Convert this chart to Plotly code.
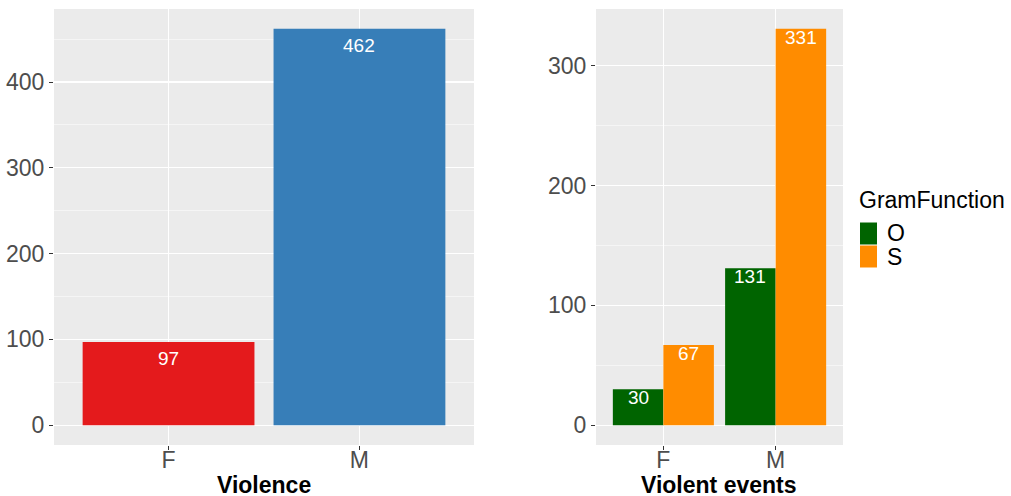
import plotly.graph_objects as go

# ---- data ----
sex_categories = ["F", "M"]
violence_counts = [97, 462]
violence_colors = ["#E41A1C", "#377EB8"]

gram_functions = ["O", "S"]
events_O = [30, 131]
events_S = [67, 331]
gram_colors = {"O": "#006400", "S": "#FF8C00"}

W, H = 1011, 496
def px(x):
    return x / W
def py(y):
    return 1 - y / H

FONT = "Liberation Sans, Arial, Helvetica, sans-serif"
BG = "#EBEBEB"
TICKCOL = "#4D4D4D"
FS = 23

fig = go.Figure()

xpos = [i + 1 for i in range(len(sex_categories))]

# Left panel bars
fig.add_trace(go.Bar(x=xpos, y=violence_counts, width=0.9,
                     marker=dict(color=violence_colors, line=dict(width=0)),
                     xaxis="x", yaxis="y", showlegend=False, hoverinfo="skip"))
for xv, v in zip(xpos, violence_counts):
    fig.add_annotation(x=xv, y=v, xref="x", yref="y", text=str(v), showarrow=False,
                       yanchor="top", yshift=-4,
                       font=dict(family=FONT, size=19, color="white"))

# Right panel bars (dodged)
dodge = {"O": -0.225, "S": 0.225}
for g, vals in zip(gram_functions, [events_O, events_S]):
    xs = [x + dodge[g] for x in xpos]
    fig.add_trace(go.Bar(x=xs, y=vals, width=0.45,
                         marker=dict(color=gram_colors[g], line=dict(width=0)),
                         xaxis="x2", yaxis="y2", name=g, showlegend=False, hoverinfo="skip"))
    for xv, v in zip(xs, vals):
        fig.add_annotation(x=xv, y=v, xref="x2", yref="y2", text=str(v), showarrow=False,
                           yanchor="top", yshift=4,
                           font=dict(family=FONT, size=19, color="white"))

ydom = [py(445), py(9)]

def xaxis_common(domain):
    return dict(domain=domain, range=[0.4, 2.6], tickvals=xpos, ticktext=sex_categories,
                showgrid=True, gridcolor="white", gridwidth=1.1, zeroline=False,
                ticks="outside", ticklen=4, tickcolor="#333333", tickwidth=1,
                ticklabelstandoff=-10,
                tickfont=dict(family=FONT, size=FS, color=TICKCOL),
                fixedrange=True)

def yaxis_common(anchor, rng, dtick):
    return dict(domain=ydom, range=rng, anchor=anchor, dtick=dtick,
                showgrid=True, gridcolor="white", gridwidth=1.1, zeroline=False,
                ticks="outside", ticklen=4, tickcolor="#333333", tickwidth=1,
                tickfont=dict(family=FONT, size=FS, color=TICKCOL),
                minor=dict(dtick=dtick / 2, showgrid=True, gridcolor="white", gridwidth=0.5, ticks=""),
                fixedrange=True)

vmax = max(violence_counts)
emax = max(events_O + events_S)

fig.update_layout(
    width=W, height=H,
    margin=dict(l=0, r=0, t=0, b=0),
    paper_bgcolor="white",
    plot_bgcolor=BG,
    barmode="overlay",
    font=dict(family=FONT),
    xaxis=xaxis_common([px(54), px(474)]) | dict(anchor="y"),
    yaxis=yaxis_common("x", [-0.05 * vmax, 1.05 * vmax], 100),
    xaxis2=xaxis_common([px(596), px(843)]) | dict(anchor="y2"),
    yaxis2=yaxis_common("x2", [-0.05 * emax, 1.05 * emax], 100),
)

# axis titles
for cx, title in [(264, "Violence"), (719, "Violent events")]:
    fig.add_annotation(xref="paper", yref="paper", x=px(cx), y=py(485), text="<b>" + title + "</b>",
                       showarrow=False, xanchor="center", yanchor="middle",
                       font=dict(family=FONT, size=FS, color="black"))

# legend
fig.add_annotation(xref="paper", yref="paper", x=px(857), y=py(200), text="GramFunction",
                   showarrow=False, xanchor="left", yanchor="middle",
                   font=dict(family=FONT, size=FS, color="black"))
key_top = 222
key_h = 23
for i, g in enumerate(gram_functions):
    y0 = key_top + i * key_h
    fig.add_shape(type="rect", xref="paper", yref="paper",
                  x0=px(860), x1=px(877), y0=py(y0 + key_h - 0.5), y1=py(y0 + 0.5),
                  fillcolor=gram_colors[g], line=dict(width=0))
    fig.add_annotation(xref="paper", yref="paper", x=px(885), y=py(y0 + key_h / 2), text=g,
                       showarrow=False, xanchor="left", yanchor="middle",
                       font=dict(family=FONT, size=FS, color="black"))

fig.write_html("out.html",
               config={"displayModeBar": False, "staticPlot": True},
               post_script="document.body.style.margin='0';document.documentElement.style.overflow='hidden';")
